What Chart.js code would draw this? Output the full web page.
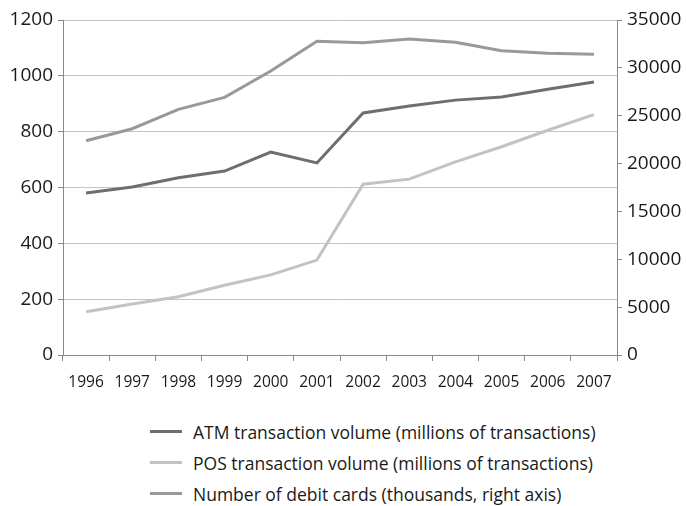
<!DOCTYPE html>
<html>
<head>
<meta charset="utf-8">
<script src="https://cdn.jsdelivr.net/npm/chart.js@4/dist/chart.umd.min.js"></script>
<style>
html,body{margin:0;padding:0;background:#fff;}
#wrap{position:relative;width:686px;height:506px;}
#c{position:absolute;left:0;top:0;}
#legend{position:absolute;left:150px;top:416px;font-family:"Open Sans",sans-serif;font-size:17.5px;color:#1a1a1a;}
.row{display:flex;align-items:center;height:31px;}
.sw{width:32px;height:3px;margin-right:11px;}
</style>
</head>
<body>
<div id="wrap">
<canvas id="c" width="686" height="400"></canvas>
<div id="legend"></div>
</div>
<script>
const years = ["1996","1997","1998","1999","2000","2001","2002","2003","2004","2005","2006","2007"];
const atmVolume = [580, 602, 635, 659, 727, 688, 867, 892, 913, 924, 952, 978];
const posVolume = [155, 183, 209, 250, 287, 340, 612, 630, 692, 746, 805, 861];
const debitCards = [22390, 23640, 25670, 26920, 29670, 32770, 32630, 33010, 32670, 31790, 31520, 31420];
const seriesNames = [
  "ATM transaction volume (millions of transactions)",
  "POS transaction volume (millions of transactions)",
  "Number of debit cards (thousands, right axis)"
];
const seriesColors = ["#6e6e6e", "#c3c3c3", "#999999"];

const fontFam = '"Open Sans", sans-serif';
const plain = v => String(v);
const ctx = document.getElementById('c');
new Chart(ctx, {
  type: 'line',
  data: {
    labels: years,
    datasets: [
      {label: seriesNames[0], data: atmVolume, borderColor: seriesColors[0], yAxisID: 'y'},
      {label: seriesNames[1], data: posVolume, borderColor: seriesColors[1], yAxisID: 'y'},
      {label: seriesNames[2], data: debitCards, borderColor: seriesColors[2], yAxisID: 'y2'}
    ].map(d => Object.assign(d, {borderWidth: 3, pointRadius: 0, tension: 0, fill: false}))
  },
  options: {
    responsive: false,
    animation: false,
    layout: {padding: {top: 20, left: 0, right: 0, bottom: 0}},
    plugins: {legend: {display: false}, tooltip: {enabled: false}},
    scales: {
      x: {
        offset: true,
        grid: {offset: true, drawOnChartArea: false, drawTicks: true, tickLength: 6, color: '#888'},
        border: {color: '#888', width: 1},
        ticks: {font: {family: fontFam, size: 15.5}, color: '#1a1a1a', padding: 12, maxRotation: 0, autoSkip: false},
        afterFit: s => { s.height = 45; }
      },
      y: {
        position: 'left',
        min: 0, max: 1200,
        ticks: {stepSize: 200, font: {family: fontFam, size: 19}, color: '#1a1a1a', padding: 5, callback: plain},
        grid: {color: '#c4c4c4', lineWidth: 1, tickLength: 5, tickColor: '#888'},
        border: {color: '#888', width: 1},
        afterFit: s => { s.width = 63; }
      },
      y2: {
        position: 'right',
        min: 0, max: 35000,
        ticks: {stepSize: 5000, font: {family: fontFam, size: 19}, color: '#1a1a1a', padding: 5, callback: plain},
        grid: {drawOnChartArea: false, tickLength: 5, color: '#888'},
        border: {color: '#888', width: 1},
        afterFit: s => { s.width = 69; }
      }
    }
  }
});

const leg = document.getElementById('legend');
seriesNames.forEach((n, i) => {
  const r = document.createElement('div'); r.className = 'row';
  const sw = document.createElement('div'); sw.className = 'sw'; sw.style.background = seriesColors[i];
  const t = document.createElement('span'); t.textContent = n;
  r.appendChild(sw); r.appendChild(t); leg.appendChild(r);
});
</script>
</body>
</html>
